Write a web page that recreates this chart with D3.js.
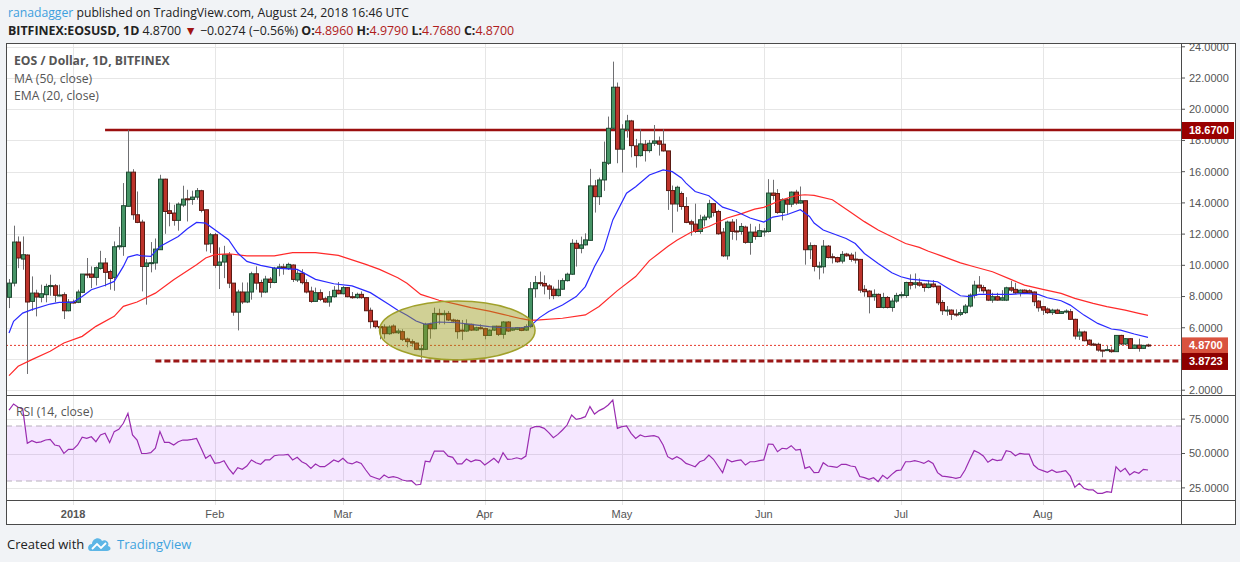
<!DOCTYPE html>
<html>
<head>
<meta charset="utf-8">
<script src="https://cdn.jsdelivr.net/npm/d3@7/dist/d3.min.js"></script>
<style>
	body { margin: 0; background: #f1f3f6; }
	svg text { font-family: "Liberation Sans", Arial, sans-serif; }
	.hdr { font-family: "Open Sans", sans-serif !important; }
</style>
</head>
<body>
<div id="visDiv"></div>
<script>
// daily candles, first one on Dec 18 2017
var startDay = '2017-12-18';

var opens = [
	7.95, 8.86, 11.49, 10.40, 10.66, 7.69, 8.22, 7.95, 8.12, 8.64,
	8.69, 8.06, 8.12, 7.09, 7.65, 7.63, 8.27, 9.44, 9.44, 9.23,
	9.8, 10.15, 9.6, 9.23, 11.19, 11.2, 13.78, 15.97, 13.24, 12.77,
	9.93, 10.15, 10.15, 11.0, 15.52, 13.5, 13.35, 12.88, 13.86, 14.26,
	14.22, 14.37, 14.78, 13.56, 11.38, 11.96, 10.0, 10.21, 10.68, 8.86,
	7.0, 8.29, 7.65, 8.29, 9.46, 8.9, 8.29, 9.12, 8.9, 9.82,
	9.9, 9.79, 10.02, 9.06, 9.49, 8.89, 8.35, 7.69, 8.25, 7.86,
	7.65, 7.99, 8.4, 8.18, 8.57, 7.99, 7.93, 8.14, 7.93, 7.12,
	6.43, 6.07, 6.05, 5.62, 6.11, 5.68, 5.75, 5.28, 5.11, 5.02,
	4.62, 4.62, 6.22, 5.94, 6.92, 6.84, 6.92, 6.5, 6.47, 5.85,
	5.79, 6.22, 5.85, 6.0, 5.94, 5.51, 5.85, 6.1, 5.58, 6.37,
	5.85, 5.9, 5.98, 5.85, 6.07, 8.5, 8.89, 8.84, 8.68, 8.47,
	8.06, 8.47, 9.02, 9.43, 11.41, 11.09, 11.31, 11.6, 15.09, 14.4,
	15.47, 16.54, 18.78, 21.41, 17.44, 18.72, 19.25, 17.65, 17.03, 17.76,
	17.35, 17.82, 17.97, 17.76, 17.33, 14.79, 13.93, 14.6, 13.77, 12.79,
	12.64, 12.17, 12.92, 13.09, 13.95, 13.45, 12.13, 10.61, 12.77, 12.2,
	12.17, 12.45, 11.47, 12.13, 11.85, 12.2, 12.17, 14.63, 14.6, 13.39,
	14.2, 13.92, 14.69, 13.99, 14.14, 11.0, 11.26, 9.91, 9.91, 11.23,
	10.55, 10.5, 10.27, 10.72, 10.66, 10.4, 10.38, 8.46, 8.35, 7.99,
	8.14, 7.3, 7.94, 7.3, 7.71, 8.07, 8.07, 8.9, 8.78, 8.88,
	8.8, 8.58, 8.8, 8.67, 7.62, 7.09, 7.13, 6.88, 6.86, 6.97,
	7.39, 8.09, 8.73, 8.58, 8.41, 7.77, 7.99, 7.77, 7.77, 8.56,
	8.46, 8.24, 8.41, 8.37, 8.29, 7.71, 7.35, 7.2, 6.97, 7.13,
	6.92, 7.03, 7.03, 6.54, 5.47, 5.73, 5.21, 4.96, 4.94, 4.57,
	4.57, 4.57, 4.47, 5.51, 4.96, 5.3, 4.68, 4.89, 4.68, 4.896
];
var highs = [
	9.12, 12.54, 11.85, 11.85, 10.7, 9.29, 8.44, 8.76, 8.82, 9.40,
	8.8, 8.76, 8.27, 7.84, 7.8, 8.44, 9.44, 10.47, 9.93, 9.93,
	10.93, 10.47, 9.72, 11.53, 12.47, 15.27, 18.68, 16.16, 14.73, 12.92,
	10.4, 11.49, 11.72, 15.8, 15.55, 14.03, 13.88, 14.03, 15.1, 14.84,
	14.78, 14.95, 14.84, 13.56, 12.07, 12.07, 11.15, 11.25, 10.85, 8.86,
	8.44, 8.9, 8.9, 9.59, 9.93, 9.08, 9.33, 9.25, 9.9, 10.1,
	10.1, 10.17, 10.06, 9.68, 9.75, 9.1, 8.63, 8.57, 8.46, 7.99,
	8.35, 8.67, 8.93, 8.67, 8.61, 8.29, 8.25, 8.33, 7.95, 7.29,
	6.43, 6.07, 6.22, 6.16, 6.22, 5.94, 5.9, 5.37, 5.26, 5.04,
	4.92, 6.32, 6.32, 7.29, 7.22, 7.12, 7.07, 6.58, 6.54, 6.5,
	6.54, 6.26, 6.07, 6.22, 6.0, 5.9, 6.11, 6.11, 6.43, 6.43,
	6.0, 6.05, 6.04, 6.22, 8.93, 9.32, 9.6, 9.36, 8.79, 8.64,
	9.07, 9.17, 9.53, 11.67, 11.63, 11.84, 12.05, 16.18, 15.47, 15.62,
	17.93, 19.53, 23.05, 21.71, 19.04, 19.64, 19.32, 18.1, 18.72, 18.03,
	18.03, 18.99, 18.25, 18.72, 17.33, 15.11, 15.1, 14.73, 14.37, 12.92,
	13.95, 13.24, 13.24, 14.2, 13.99, 13.56, 12.39, 12.86, 12.96, 12.96,
	12.71, 12.54, 12.66, 12.49, 12.66, 12.39, 15.52, 15.48, 14.88, 14.3,
	14.3, 14.73, 14.84, 15.05, 14.14, 11.47, 11.32, 10.23, 11.62, 11.3,
	10.76, 10.55, 10.91, 10.8, 10.8, 10.87, 10.38, 8.73, 8.41, 8.46,
	8.2, 8.24, 8.03, 7.88, 8.24, 8.31, 8.95, 9.42, 9.48, 9.16,
	8.84, 9.06, 9.06, 8.67, 7.77, 7.39, 7.18, 7.18, 7.18, 7.52,
	8.2, 9.01, 9.31, 8.73, 8.46, 8.24, 8.24, 8.41, 8.63, 9.0,
	8.88, 8.46, 8.46, 8.46, 8.33, 7.77, 7.39, 7.3, 7.22, 7.22,
	7.07, 7.18, 7.2, 6.58, 5.94, 5.81, 5.26, 5.04, 5.04, 4.58,
	4.85, 4.79, 5.51, 5.55, 5.34, 5.34, 4.92, 5.3, 4.9, 4.979
];
var lows = [
	7.26, 8.65, 9.82, 9.72, 3.04, 7.09, 6.73, 7.63, 7.63, 8.05,
	7.63, 8.01, 6.56, 7.05, 7.55, 7.58, 8.22, 9.18, 8.54, 8.71,
	9.72, 8.65, 8.44, 8.37, 11.0, 10.61, 13.77, 12.92, 12.7, 8.33,
	7.48, 9.55, 9.72, 11.0, 12.02, 12.5, 12.54, 12.22, 13.73, 12.81,
	13.88, 14.2, 13.39, 10.89, 10.79, 9.82, 8.48, 9.18, 8.54, 6.77,
	5.83, 7.52, 7.58, 7.8, 8.44, 7.95, 8.22, 8.54, 8.85, 9.3,
	9.4, 9.7, 8.93, 8.93, 8.78, 8.2, 7.6, 7.65, 7.71, 7.6,
	7.35, 7.93, 8.14, 8.14, 7.95, 7.86, 7.86, 7.86, 7.07, 5.95,
	5.95, 5.26, 5.3, 5.55, 5.62, 5.6, 5.15, 4.75, 4.79, 4.57,
	4.02, 4.57, 5.3, 5.9, 6.22, 6.22, 6.43, 6.37, 5.3, 5.21,
	5.73, 5.79, 5.79, 5.9, 5.26, 5.47, 5.79, 5.47, 5.3, 5.73,
	5.79, 5.85, 5.78, 5.79, 6.0, 7.93, 8.67, 8.14, 7.83, 7.83,
	8.0, 8.43, 8.96, 9.39, 9.92, 10.77, 11.27, 11.58, 13.38, 13.87,
	14.77, 16.43, 18.72, 16.54, 15.94, 18.18, 16.92, 16.26, 16.97, 16.65,
	17.22, 17.65, 17.03, 17.29, 13.55, 12.1, 13.44, 13.56, 12.7, 11.9,
	12.07, 12.02, 12.5, 12.96, 13.13, 11.96, 10.53, 10.36, 11.64, 11.6,
	11.96, 11.38, 10.68, 11.64, 11.81, 11.85, 12.1, 14.2, 13.3, 12.88,
	13.3, 13.73, 13.88, 13.94, 10.04, 10.4, 9.61, 9.1, 9.48, 10.44,
	10.12, 10.16, 10.12, 10.55, 10.23, 10.12, 8.24, 7.99, 6.92, 7.73,
	7.28, 7.24, 7.24, 7.03, 7.6, 7.88, 7.92, 8.46, 8.52, 8.63,
	8.31, 8.52, 8.58, 7.45, 6.82, 6.77, 6.5, 6.71, 6.75, 6.88,
	7.3, 7.88, 8.31, 8.2, 7.71, 7.6, 7.73, 7.73, 7.71, 8.3,
	8.16, 8.0, 8.16, 8.2, 7.39, 7.03, 6.82, 6.88, 6.82, 6.88,
	6.9, 6.92, 6.5, 5.26, 5.22, 5.13, 4.87, 4.83, 4.47, 4.11,
	4.53, 4.4, 4.47, 4.89, 4.89, 4.66, 4.64, 4.47, 4.65, 4.768
];
var closes = [
	8.86, 11.49, 10.47, 10.68, 7.65, 8.22, 7.97, 8.18, 8.65, 8.71,
	8.08, 8.1, 7.09, 7.65, 7.60, 8.29, 9.44, 9.40, 9.23, 9.85,
	10.15, 9.55, 9.16, 11.19, 11.25, 13.82, 15.97, 13.24, 12.75, 9.93,
	10.15, 10.17, 11.04, 15.52, 13.45, 13.32, 12.88, 13.92, 14.24, 14.22,
	14.37, 14.78, 13.52, 11.36, 11.96, 10.0, 10.21, 10.68, 8.86, 7.0,
	8.29, 7.65, 8.29, 9.46, 8.86, 8.29, 9.12, 8.9, 9.82, 9.9,
	9.85, 10.06, 9.1, 9.49, 8.89, 8.29, 7.69, 8.25, 7.82, 7.65,
	7.99, 8.4, 8.18, 8.57, 7.99, 7.93, 8.14, 7.93, 7.09, 6.39,
	6.07, 6.0, 5.62, 6.05, 5.68, 5.79, 5.26, 5.11, 5.02, 4.62,
	4.66, 6.22, 5.94, 6.92, 6.84, 6.92, 6.5, 6.43, 5.75, 5.81,
	6.22, 5.85, 6.0, 5.94, 5.51, 5.85, 6.1, 5.58, 6.37, 5.79,
	5.94, 6.0, 5.83, 6.07, 8.5, 8.89, 8.84, 8.68, 8.47, 8.06,
	8.47, 9.02, 9.43, 11.41, 11.09, 11.31, 11.63, 15.09, 14.4, 15.47,
	16.6, 18.78, 21.41, 17.44, 18.72, 19.25, 17.67, 17.03, 17.78, 17.35,
	17.82, 17.97, 17.76, 17.33, 14.79, 13.93, 15.0, 13.77, 12.75, 12.64,
	12.17, 12.92, 13.09, 13.95, 13.39, 12.02, 10.61, 12.77, 12.17, 12.17,
	12.49, 11.47, 12.13, 11.85, 12.22, 12.2, 14.63, 14.48, 13.39, 14.2,
	13.92, 14.69, 13.99, 14.14, 11.0, 11.26, 9.93, 9.95, 11.23, 10.5,
	10.5, 10.23, 10.7, 10.61, 10.38, 10.36, 8.41, 8.31, 7.99, 8.14,
	7.3, 7.94, 7.3, 7.71, 8.07, 8.12, 8.9, 8.73, 8.88, 8.73,
	8.58, 8.8, 8.63, 7.6, 7.09, 7.13, 6.86, 6.86, 6.97, 7.39,
	8.09, 8.73, 8.56, 8.37, 7.77, 7.99, 7.77, 7.92, 8.56, 8.41,
	8.24, 8.41, 8.26, 8.24, 7.67, 7.28, 7.13, 6.97, 7.13, 6.92,
	7.03, 7.07, 6.54, 5.47, 5.73, 5.17, 4.94, 4.89, 4.57, 4.53,
	4.6, 4.47, 5.51, 4.96, 5.3, 4.68, 4.89, 4.68, 4.87, 4.87
];

// [candle index, value]
var ema20 = [
	[0,5.66],[1,6.41],[3,6.94],[5,7.16],[9,7.52],[11,7.63],[14,7.63],[16,8.01],[18,8.44],[21,8.72],
	[23,8.97],[25,9.93],[26,10.53],[28,10.68],[29,10.6],[31,10.57],[33,11.21],[37,11.85],[39,12.34],[41,12.75],
	[43,12.7],[45,12.28],[48,11.64],[50,10.79],[52,10.25],[55,10.0],[58,9.82],[63,9.74],[67,9.1],[71,8.82],
	[75,8.68],[79,8.25],[83,7.5],[85,7.12],[87,6.8],[89,6.43],[91,6.22],[94,6.37],[98,6.32],[101,6.22],
	[105,6.07],[108,6.0],[112,6.0],[114,6.11],[116,6.65],[118,7.04],[121,7.46],[124,8.0],[126,8.64],[128,9.92],
	[130,10.99],[132,12.91],[135,14.62],[137,15.04],[140,15.79],[143,16.11],[145,16.0],[147,15.6],[148,15.27],[150,14.73],
	[153,14.46],[156,13.73],[159,13.45],[162,13.03],[165,12.77],[167,13.09],[170,13.24],[173,13.56],[175,13.13],[176,12.71],
	[178,12.26],[183,11.72],[185,11.4],[187,10.76],[190,10.12],[193,9.52],[195,9.27],[197,9.12],[201,9.01],[203,8.95],
	[205,8.58],[208,8.05],[210,7.99],[212,8.14],[215,8.14],[219,8.14],[222,8.2],[225,8.14],[227,7.92],[230,7.73],
	[232,7.45],[235,6.81],[238,6.28],[241,5.92],[243,5.85],[246,5.6],[249,5.38]
];
var ma50 = [
	[0,2.93],[2,3.53],[5,3.96],[9,4.49],[12,5.02],[16,5.45],[19,6.09],[23,6.73],[25,7.37],[28,7.65],
	[32,8.22],[36,9.08],[41,10.04],[43,10.47],[45,10.68],[48,10.74],[52,10.61],[58,10.61],[62,10.81],[67,10.81],
	[72,10.64],[78,10.06],[81,9.74],[85,9.21],[87,8.85],[90,8.14],[94,7.76],[98,7.5],[101,7.29],[105,7.07],
	[108,6.86],[112,6.58],[114,6.47],[116,6.5],[121,6.61],[126,6.82],[129,7.36],[133,8.38],[137,9.28],[140,10.3],
	[144,11.2],[146,11.6],[149,12.1],[153,12.49],[157,13.03],[160,13.3],[163,13.6],[165,13.71],[169,14.2],[172,14.46],
	[174,14.52],[176,14.48],[180,14.2],[184,13.4],[187,12.8],[190,12.26],[193,11.83],[196,11.4],[199,11.15],[201,10.9],
	[204,10.59],[208,10.16],[211,9.91],[215,9.59],[219,9.1],[222,8.73],[226,8.46],[230,8.2],[233,7.88],[237,7.56],
	[240,7.35],[244,7.13],[247,6.92],[249,6.79]
];
var rsi = [
	81.6, 86, 83.6, 82.5, 57.4, 59.3, 57.9, 58.5, 59.8, 60.3,
	56.2, 55.5, 50.1, 53, 53, 56.2, 61.8, 61, 62.2, 58.6,
	63.5, 64.7, 57.9, 65.9, 67.6, 72, 79.2, 63.5, 59.8, 50.1,
	50, 50.6, 53.8, 65.9, 58.1, 58.1, 56.2, 58.6, 59.8, 59.8,
	60.3, 61, 53.8, 46.5, 48.9, 42.8, 43.3, 44.8, 39.2, 35.1,
	39.7, 38.5, 40.9, 45.3, 43.3, 42.1, 45.3, 45.3, 48.4, 48.9,
	48.9, 49.4, 45.3, 47.2, 44, 42.4, 39.2, 42.4, 40.4, 40.4,
	42.8, 45.3, 44, 46.5, 43.3, 42.4, 44, 42.8, 38, 33.6,
	32.4, 31.2, 34.4, 32.4, 33.2, 32.4, 30.7, 30, 30.2, 27.1,
	27.6, 44.5, 44, 51.8, 51.8, 51.8, 48.1, 47.2, 42.4, 42.4,
	46, 44, 45.3, 44.8, 41.6, 44, 46.5, 43.3, 50.6, 45.7,
	46, 46.9, 46, 48.1, 68.2, 69.5, 69.5, 68.3, 65.2, 61.5,
	63.9, 67.1, 70.7, 78, 74.8, 75.6, 76.8, 84.1, 78.7, 81.2,
	82.8, 85.3, 88.9, 68.3, 69.5, 70, 64.7, 61, 63.5, 62.2,
	62.7, 63, 61.8, 56.2, 47.7, 45.8, 47.7, 45.8, 42.8, 41.6,
	40.4, 44, 45.3, 48.9, 45.8, 40.9, 36.1, 45.8, 44, 44.8,
	45.3, 41.6, 44, 44, 44.8, 45.3, 56.9, 56.7, 51.3, 53.8,
	53.3, 55.7, 52.5, 53, 39.2, 40.4, 36.1, 36.3, 43.3, 40.9,
	40.4, 39.9, 42.1, 42.1, 40.9, 40.4, 33.2, 32.4, 31.2, 32.4,
	29.5, 34.1, 31.7, 34.8, 37.5, 38, 44, 44, 44.8, 44,
	42.8, 44.8, 42.8, 36.1, 33.6, 33.2, 32.7, 31.9, 32.7, 38,
	45.3, 52.1, 50.6, 48.2, 43.6, 45.8, 44.8, 45.3, 52.1, 51.3,
	48.4, 50.1, 49.6, 49.6, 41.6, 38.7, 37.5, 36.3, 38, 36.3,
	36.8, 37.5, 33.6, 25.4, 28.3, 24.7, 23.5, 23.5, 21, 21,
	22.2, 21.8, 40.4, 36.8, 39.2, 34.4, 36.8, 35.6, 38.5, 38
];

var priceTicks = [2, 4, 6, 8, 10, 12, 14, 16, 18, 20, 22, 24];
var rsiTicks = [25, 50, 75];
var rsiBand = [30, 70];
var monthTicks = ['2018-01-01', '2018-02-01', '2018-03-01', '2018-04-01', '2018-05-01', '2018-06-01', '2018-07-01', '2018-08-01'];
var monthLabels = ['2018', 'Feb', 'Mar', 'Apr', 'May', 'Jun', 'Jul', 'Aug'];

var resistance = {value: 18.67, from: '2018-01-08', label: '18.6700'};
var support = {value: 3.8723, from: '2018-01-19', label: '3.8723'};
var lastPrice = {value: 4.87, label: '4.8700'};
// the hand drawn ellipse round the March base
var zone = {from: '2018-03-09', to: '2018-04-12', low: 3.94, high: 7.72};

(function () {

	window.onload = function () {
		var W = 1240, H = 562,
			left = 6, right = 1181, outerRight = 1236,
			mainTop = 43, mainBottom = 395, rsiBottom = 500, axisBottom = 525;

		var svg = d3.select('#visDiv')
			.append('svg')
				.attr('width', W)
				.attr('height', H)
				.style('display', 'block');

		var parse = d3.utcParse('%Y-%m-%d');
		var days = d3.utcDay.range(parse(startDay), d3.utcDay.offset(parse(startDay), opens.length));

		var x = d3.scaleUtc()
			.domain([days[0], days[days.length - 1]])
			.range([9, 1148]);
		var y = d3.scaleLinear()
			.domain([2, 24])
			.range([390.2, 46.8]);
		var yR = d3.scaleLinear()
			.domain([30, 70])
			.range([481, 426]);

		// header
		var hdr = svg.append('g');
		var t1 = hdr.append('text').attr('class', 'hdr').attr('x', 8).attr('y', 17).style('font-size', '12.2px').style('fill', '#222');
		t1.append('tspan').style('fill', '#3ea0de').text('ranadagger');
		t1.append('tspan').text(' published on TradingView.com, August 24, 2018 16:46 UTC');

		var t2 = hdr.append('text').attr('class', 'hdr').attr('x', 8).attr('y', 35).style('font-size', '12.4px').style('fill', '#222');
		t2.append('tspan').style('font-weight', 'bold').text('BITFINEX:EOSUSD, 1D');
		t2.append('tspan').text('  4.8700 ');
		t2.append('tspan').style('fill', '#a01414').text('\u25BC');
		t2.append('tspan').text(' \u22120.0274 (\u22120.56%) ');
		[['O:', '4.8960'], [' H:', '4.9790'], [' L:', '4.7680'], [' C:', '4.8700']].forEach(function (p) {
			t2.append('tspan').style('font-weight', 'bold').text(p[0]);
			t2.append('tspan').style('fill', '#b01c1c').text(p[1]);
		});

		// chart background
		svg.append('rect')
			.attr('x', left).attr('y', mainTop)
			.attr('width', outerRight - left).attr('height', axisBottom - mainTop)
			.style('fill', '#fff');

		var defs = svg.append('defs');
		defs.append('clipPath').attr('id', 'clipMain')
			.append('rect').attr('x', left).attr('y', mainTop).attr('width', right - left).attr('height', mainBottom - mainTop);
		defs.append('clipPath').attr('id', 'clipRsi')
			.append('rect').attr('x', left).attr('y', mainBottom).attr('width', right - left).attr('height', rsiBottom - mainBottom);
		defs.append('clipPath').attr('id', 'clipAxis')
			.append('rect').attr('x', right).attr('y', mainTop).attr('width', outerRight - right).attr('height', mainBottom - mainTop);

		// grid
		var grid = svg.append('g');
		grid.selectAll('.hg')
			.data(priceTicks)
			.enter().append('line')
				.attr('x1', left).attr('x2', right)
				.attr('y1', function (d) { return Math.round(y(d)) + 0.5; })
				.attr('y2', function (d) { return Math.round(y(d)) + 0.5; })
				.style('stroke', '#e6e6e6');
		grid.selectAll('.rg')
			.data(rsiTicks)
			.enter().append('line')
				.attr('x1', left).attr('x2', right)
				.attr('y1', function (d) { return Math.round(yR(d)) + 0.5; })
				.attr('y2', function (d) { return Math.round(yR(d)) + 0.5; })
				.style('stroke', '#e6e6e6');
		grid.selectAll('.vg')
			.data(monthTicks)
			.enter().append('line')
				.attr('x1', function (d) { return Math.round(x(parse(d))) + 0.5; })
				.attr('x2', function (d) { return Math.round(x(parse(d))) + 0.5; })
				.attr('y1', mainTop).attr('y2', rsiBottom + 5)
				.style('stroke', '#e6e6e6');

		// main panel
		var main = svg.append('g').attr('clip-path', 'url(#clipMain)');

		main.append('line')
			.attr('x1', x(parse(resistance.from))).attr('x2', right)
			.attr('y1', y(resistance.value)).attr('y2', y(resistance.value))
			.style('stroke', '#9b0f0f').style('stroke-width', 2.5);

		main.append('line')
			.attr('x1', left).attr('x2', right)
			.attr('y1', y(lastPrice.value)).attr('y2', y(lastPrice.value))
			.style('stroke', '#e53b2c').style('stroke-width', 1)
			.style('stroke-dasharray', '2,2');

		main.append('line')
			.attr('x1', x(parse(support.from))).attr('x2', right)
			.attr('y1', y(support.value)).attr('y2', y(support.value))
			.style('stroke', '#9b1616').style('stroke-width', 3)
			.style('stroke-dasharray', '6,3');

		var idx = d3.range(opens.length);
		var candles = main.selectAll('.candle')
			.data(idx)
			.enter().append('g');

		candles.append('line')
			.attr('x1', function (i) { return Math.round(x(days[i])) + 0.5; })
			.attr('x2', function (i) { return Math.round(x(days[i])) + 0.5; })
			.attr('y1', function (i) { return y(Math.max(highs[i], opens[i], closes[i])); })
			.attr('y2', function (i) { return y(Math.min(lows[i], opens[i], closes[i])); })
			.style('stroke', '#6f6f72');

		candles.append('rect')
			.attr('x', function (i) { return Math.round(x(days[i])) - 1.5; })
			.attr('y', function (i) { return y(Math.max(opens[i], closes[i])); })
			.attr('width', 4)
			.attr('height', function (i) { return Math.max(1, Math.abs(y(opens[i]) - y(closes[i]))); })
			.style('fill', function (i) { return closes[i] >= opens[i] ? '#469466' : '#bd332b'; })
			.style('stroke', function (i) { return closes[i] >= opens[i] ? '#1f4a32' : '#5b1a13'; })
			.style('stroke-width', 1);

		var avgLine = d3.line()
			.x(function (d) { return x(days[d[0]]); })
			.y(function (d) { return y(d[1]); });

		main.append('path')
			.datum(ma50)
			.attr('d', avgLine)
			.style('fill', 'none').style('stroke', '#ff2a2a').style('stroke-width', 1.2);
		main.append('path')
			.datum(ema20)
			.attr('d', avgLine)
			.style('fill', 'none').style('stroke', '#2a2aff').style('stroke-width', 1.2);

		var zx0 = x(parse(zone.from)), zx1 = x(parse(zone.to));
		main.append('ellipse')
			.attr('cx', (zx0 + zx1) / 2)
			.attr('cy', (y(zone.low) + y(zone.high)) / 2)
			.attr('rx', (zx1 - zx0) / 2)
			.attr('ry', (y(zone.low) - y(zone.high)) / 2)
			.style('fill', 'rgba(150,150,20,0.45)')
			.style('stroke', '#a0a02a').style('stroke-width', 1.5);

		// legend
		var leg = svg.append('g').style('fill', '#555').style('font-size', '12.2px');
		leg.append('text').attr('class', 'hdr').attr('x', 14).attr('y', 65).style('font-weight', 'bold').text('EOS / Dollar, 1D, BITFINEX');
		leg.append('text').attr('class', 'hdr').attr('x', 14).attr('y', 83).text('MA (50, close)');
		leg.append('text').attr('class', 'hdr').attr('x', 14).attr('y', 100).text('EMA (20, close)');

		// rsi panel
		var rp = svg.append('g').attr('clip-path', 'url(#clipRsi)');
		rp.append('rect')
			.attr('x', left).attr('width', right - left)
			.attr('y', yR(rsiBand[1])).attr('height', yR(rsiBand[0]) - yR(rsiBand[1]))
			.style('fill', 'rgba(153,21,255,0.1)');
		rp.selectAll('.band')
			.data(rsiBand)
			.enter().append('line')
				.attr('x1', left).attr('x2', right)
				.attr('y1', function (d) { return yR(d); })
				.attr('y2', function (d) { return yR(d); })
				.style('stroke', '#b8b0bc').style('stroke-dasharray', '6,4');
		rp.append('path')
			.datum(rsi)
			.attr('d', d3.line()
				.x(function (d, i) { return x(days[i]); })
				.y(function (d) { return yR(d); }))
			.style('fill', 'none').style('stroke', '#9a2cb0').style('stroke-width', 1.2);
		svg.append('text').attr('class', 'hdr')
			.attr('x', 16).attr('y', 416)
			.style('fill', '#555').style('font-size', '12.2px')
			.text('RSI (14, close)');

		// price axis, clipped to the main panel height
		var pa = svg.append('g')
			.attr('clip-path', 'url(#clipAxis)')
			.append('g')
				.attr('transform', 'translate(' + right + ',0)');
		var pTicks = pa.selectAll('.pt')
			.data(priceTicks.filter(function (d) { return Math.abs(y(d) - y(support.value)) > 12; }))
			.enter().append('g')
				.attr('transform', function (d) { return 'translate(0,' + y(d) + ')'; });
		pTicks.append('line').attr('x2', 4).style('stroke', '#555');
		pTicks.append('text')
			.attr('x', 8).attr('dy', '0.35em')
			.style('font-size', '11px').style('fill', '#555')
			.text(function (d) { return d3.format('.4f')(d); });

		var ra = svg.append('g').attr('transform', 'translate(' + right + ',0)');
		var rTicks = ra.selectAll('.rt')
			.data(rsiTicks)
			.enter().append('g')
				.attr('transform', function (d) { return 'translate(0,' + yR(d) + ')'; });
		rTicks.append('line').attr('x2', 4).style('stroke', '#555');
		rTicks.append('text')
			.attr('x', 8).attr('dy', '0.35em')
			.style('font-size', '11px').style('fill', '#555')
			.text(function (d) { return d3.format('.4f')(d); });

		// price labels on the axis
		[[resistance, '#990000', 52], [lastPrice, '#d9533f', 46], [support, '#8e0000', 46]].forEach(function (m) {
			var yy = y(m[0].value);
			svg.append('rect')
				.attr('x', right + 1).attr('y', yy - 8)
				.attr('width', m[2]).attr('height', 17)
				.style('fill', m[1]);
			svg.append('text')
				.attr('x', right + 8).attr('y', yy).attr('dy', '0.35em')
				.style('font-size', '11px').style('font-weight', 'bold').style('fill', '#fff')
				.text(m[0].label);
		});

		// time axis
		var ta = svg.append('g');
		ta.selectAll('text')
			.data(monthTicks)
			.enter().append('text')
				.attr('x', function (d) { return x(parse(d)); })
				.attr('y', 518)
				.style('text-anchor', 'middle')
				.style('font-size', '11px')
				.style('fill', '#555')
				.style('font-weight', function (d, i) { return i === 0 ? 'bold' : 'normal'; })
				.text(function (d, i) { return monthLabels[i]; });

		// frames
		var fr = svg.append('g').style('stroke', '#4a4a4a').style('fill', 'none');
		fr.append('rect').attr('x', left + 0.5).attr('y', mainTop + 0.5).attr('width', outerRight - left - 1).attr('height', axisBottom - mainTop - 1);
		fr.append('line').attr('x1', left).attr('x2', outerRight).attr('y1', mainBottom + 0.5).attr('y2', mainBottom + 0.5);
		fr.append('line').attr('x1', left).attr('x2', outerRight).attr('y1', rsiBottom + 0.5).attr('y2', rsiBottom + 0.5);
		fr.append('line').attr('x1', right + 0.5).attr('x2', right + 0.5).attr('y1', mainTop).attr('y2', axisBottom);

		// footer
		svg.append('text').attr('class', 'hdr')
			.attr('x', 7).attr('y', 549)
			.style('font-size', '13px').style('fill', '#222')
			.text('Created with');
		var logo = svg.append('g').attr('transform', 'translate(88,536)');
		logo.append('path')
			.attr('d', 'M3,15 C-1,15 -1,8 4,8 C4,2 12,0 14,5 C17,3 22,6 20,10 C24,11 23,15 19,15 Z')
			.style('fill', '#5db6e6');
		logo.append('polyline')
			.attr('points', '4,13 9,8 13,12 18,7')
			.style('fill', 'none').style('stroke', '#fff').style('stroke-width', 1.8);
		svg.append('text').attr('class', 'hdr')
			.attr('x', 117).attr('y', 549)
			.style('font-size', '13px').style('fill', '#3fa3de')
			.text('TradingView');
	};
}());
</script>
</body>
</html>
